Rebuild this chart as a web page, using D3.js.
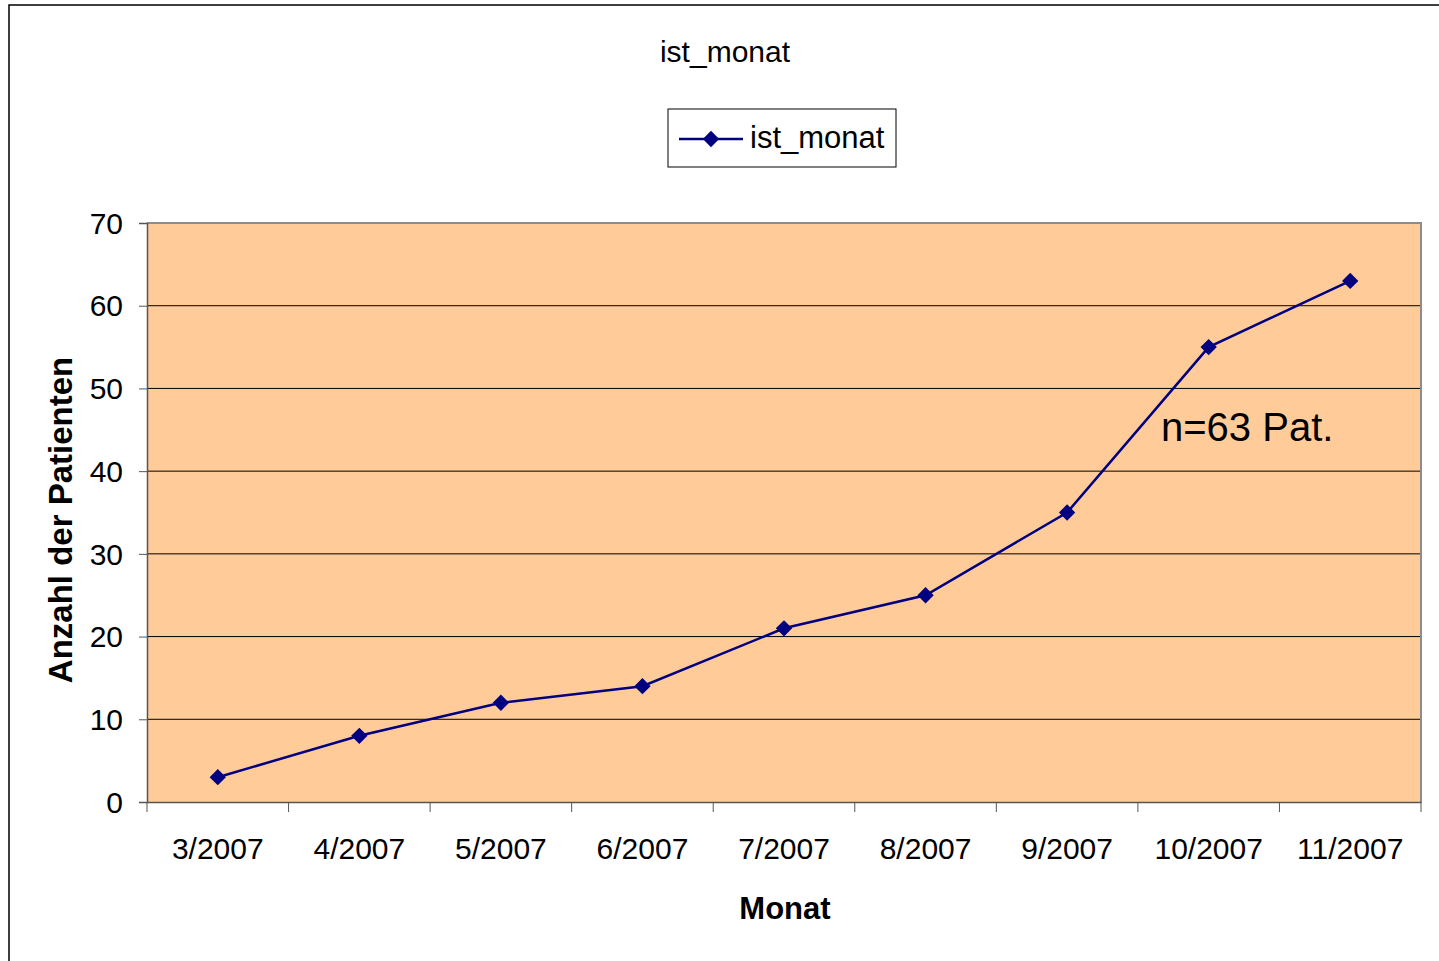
<!DOCTYPE html>
<html>
<head>
<meta charset="utf-8">
<script src="https://cdn.jsdelivr.net/npm/d3@7"></script>
<style>
  html, body { margin: 0; padding: 0; background: #fff; }
  svg { display: block; font-family: "Liberation Sans", Arial, sans-serif; }
</style>
</head>
<body>
<svg id="chart" width="1439" height="961"></svg>
<script>
// Monthly cumulative patient count
const months = ["3/2007", "4/2007", "5/2007", "6/2007", "7/2007", "8/2007", "9/2007", "10/2007", "11/2007"];
const patients = [3, 8, 12, 14, 21, 25, 35, 55, 63];
const yTicks = [0, 10, 20, 30, 40, 50, 60, 70];
const seriesName = "ist_monat";

const svg = d3.select("#chart");
const W = 1439, H = 961;
const FONT = "Liberation Sans, Arial, sans-serif";

// outer chart frame (runs off the right and bottom edges)
svg.append("rect")
  .attr("x", 9).attr("y", 5).attr("width", W + 10).attr("height", H + 10)
  .attr("fill", "#fff").attr("stroke", "#000").attr("stroke-width", 1.5);

const plot = { left: 147, top: 223, right: 1421, bottom: 802 };

const x = d3.scaleBand().domain(months).range([plot.left, plot.right]).padding(0);
const y = d3.scaleLinear().domain([0, 70]).range([plot.bottom, plot.top]);

// plot background
svg.append("rect")
  .attr("x", plot.left).attr("y", plot.top)
  .attr("width", plot.right - plot.left).attr("height", plot.bottom - plot.top)
  .attr("fill", "#FFCC99");

// horizontal gridlines
svg.append("g").selectAll("line")
  .data(yTicks.filter(d => d > 0 && d < 70))
  .join("line")
  .attr("x1", plot.left).attr("x2", plot.right)
  .attr("y1", d => y(d)).attr("y2", d => y(d))
  .attr("stroke", "#000").attr("stroke-width", 1);

// plot border on top and right
svg.append("path")
  .attr("d", `M${plot.left},${plot.top}H${plot.right}V${plot.bottom}`)
  .attr("fill", "none").attr("stroke", "#8c8c8c").attr("stroke-width", 2);

// y axis
const yAxis = svg.append("g")
  .attr("transform", `translate(${plot.left},0)`)
  .call(d3.axisLeft(y).tickValues(yTicks).tickSize(8).tickPadding(16).tickFormat(d3.format("d")));
yAxis.select(".domain").attr("stroke", "#555").attr("stroke-width", 1.5);
yAxis.selectAll(".tick line").attr("stroke", "#555");
yAxis.selectAll("text").attr("font-size", 30).attr("fill", "#000")
  .attr("font-family", FONT).attr("dy", "0.34em");

// x axis with ticks at category boundaries
const xAxis = svg.append("g")
  .attr("transform", `translate(0,${plot.bottom})`)
  .call(d3.axisBottom(x).tickSize(0).tickPadding(0));
xAxis.select(".domain").attr("stroke", "#555").attr("stroke-width", 1.5);
xAxis.selectAll("text").attr("font-size", 30).attr("fill", "#000")
  .attr("font-family", FONT).attr("dy", null).attr("y", 57);
xAxis.selectAll("line.boundary")
  .data(months.map(m => x(m)).concat([plot.right]))
  .join("line")
  .attr("class", "boundary")
  .attr("x1", d => d).attr("x2", d => d)
  .attr("y1", 0).attr("y2", 10)
  .attr("stroke", "#555").attr("stroke-width", 1);

// data line
const cx = m => x(m) + x.bandwidth() / 2;
const line = d3.line().x((d, i) => cx(months[i])).y(d => y(d));
svg.append("path")
  .datum(patients)
  .attr("d", line)
  .attr("fill", "none").attr("stroke", "#000080").attr("stroke-width", 2.5);

// diamond markers
const diamond = d3.symbol().type(d3.symbolDiamond2).size(170);
svg.append("g").selectAll("path")
  .data(patients)
  .join("path")
  .attr("d", diamond)
  .attr("transform", (d, i) => `translate(${cx(months[i])},${y(d)})`)
  .attr("fill", "#000080");

// title
svg.append("text")
  .attr("x", 725).attr("y", 62)
  .attr("text-anchor", "middle").attr("font-size", 30)
  .text(seriesName);

// legend
const lg = svg.append("g");
lg.append("rect")
  .attr("x", 668).attr("y", 109).attr("width", 228).attr("height", 58)
  .attr("fill", "#fff").attr("stroke", "#000").attr("stroke-width", 1);
lg.append("line")
  .attr("x1", 679).attr("x2", 743).attr("y1", 139).attr("y2", 139)
  .attr("stroke", "#000080").attr("stroke-width", 2.5);
lg.append("path")
  .attr("d", diamond)
  .attr("transform", "translate(711,139)")
  .attr("fill", "#000080");
lg.append("text")
  .attr("x", 750).attr("y", 148)
  .attr("font-size", 31)
  .text(seriesName);

// annotation
svg.append("text")
  .attr("x", 1161).attr("y", 441)
  .attr("font-size", 40)
  .text("n=63 Pat.");

// axis titles
svg.append("text")
  .attr("x", 785).attr("y", 919)
  .attr("text-anchor", "middle").attr("font-size", 31).attr("font-weight", "bold")
  .text("Monat");
svg.append("text")
  .attr("transform", "translate(72,520) rotate(-90)")
  .attr("text-anchor", "middle").attr("font-size", 33).attr("font-weight", "bold")
  .text("Anzahl der Patienten");
</script>
</body>
</html>
